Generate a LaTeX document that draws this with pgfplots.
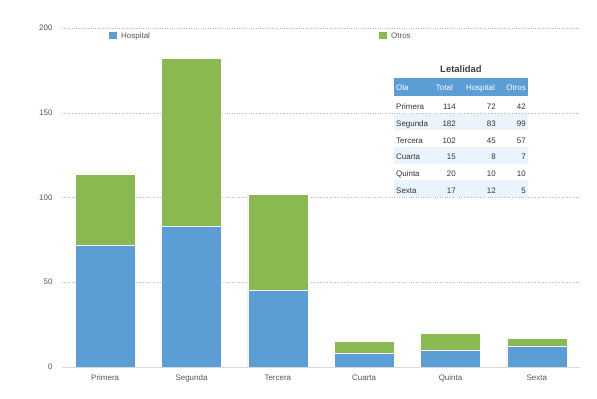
\documentclass[border=0pt]{standalone}
\usepackage{pgfplots}
\pgfplotsset{compat=1.18}
\usepackage{fontspec}
\setmainfont{Liberation Sans}
\definecolor{hosp}{RGB}{91,157,213}
\definecolor{otros}{RGB}{137,185,80}
\definecolor{txt}{RGB}{85,85,85}
\definecolor{rowfill}{RGB}{234,244,252}
\begin{document}
\begin{tikzpicture}[tx/.style={inner sep=0, text height=1.5ex, text depth=0.25ex, font=\fontsize{8}{9}\selectfont}]
\useasboundingbox (0,0) rectangle (597bp,399bp);
\begin{axis}[at={(62bp,32bp)}, anchor=south west, scale only axis,
  width=518bp, height=339bp,
  xmin=-0.5, xmax=5.5, ymin=0, ymax=200,
  ybar stacked, bar width=60bp,
  axis line style={draw=none}, tick style={draw=none},
  xtick={0,...,5},
  xticklabels={Primera,Segunda,Tercera,Cuarta,Quinta,Sexta},
  ytick={50,100,150,200},
  extra y ticks={0},
  extra y tick style={grid style={solid, gray!30, line width=0.9pt}},
  ymajorgrids, grid style={dotted, gray!55, line width=0.45pt},
  tick label style={font=\fontsize{8}{9}\selectfont, text=txt},
  yticklabel style={xshift=-6bp},
  xticklabel style={yshift=-2bp, text height=1.5ex, text depth=0.25ex},
  /pgf/number format/assume math mode=true,
]
\addplot[fill=hosp, draw=white, line width=0.5pt] coordinates {(0,72) (1,83) (2,45) (3,8) (4,10) (5,12)};
\addplot[fill=otros, draw=white, line width=0.5pt] coordinates {(0,42) (1,99) (2,57) (3,7) (4,10) (5,5)};
\end{axis}
\begin{scope}[x=1bp,y=1bp]
% legend
\fill[hosp] (109,360) rectangle (117,367);
\node[tx, anchor=west, text=txt] at (121,363.5) {Hospital};
\fill[otros] (379,360) rectangle (387,367);
\node[tx, anchor=west, text=txt] at (391,363.5) {Otros};
% table
\node[font=\bfseries\fontsize{9.5}{10}\selectfont, text=black!75] at (461,330) {Letalidad};
\fill[hosp] (394,303) rectangle (528,321);
\node[tx, anchor=west, text=white] at (396,312) {Ola};
\node[tx, anchor=east, text=white] at (453,312) {Total};
\node[tx, anchor=east, text=white] at (495,312) {Hospital};
\node[tx, anchor=east, text=white] at (526,312) {Otros};
\foreach \k/\ola/\tot/\hos/\otr in {0/Primera/114/72/42, 1/Segunda/182/83/99, 2/Tercera/102/45/57, 3/Cuarta/15/8/7, 4/Quinta/20/10/10, 5/Sexta/17/12/5}{
  \pgfmathsetmacro{\top}{302-16.7*\k}
  \pgfmathsetmacro{\bot}{285.3-16.7*\k}
  \pgfmathsetmacro{\mid}{292.5-16.7*\k}
  \ifodd\k \fill[rowfill] (394,\bot) rectangle (528,\top); \fi
  \node[tx, anchor=west, text=black!80] at (396,\mid) {\ola};
  \node[tx, anchor=east, text=black!80] at (456,\mid) {\tot};
  \node[tx, anchor=east, text=black!80] at (496,\mid) {\hos};
  \node[tx, anchor=east, text=black!80] at (526,\mid) {\otr};
}
\end{scope}
\end{tikzpicture}
\end{document}
